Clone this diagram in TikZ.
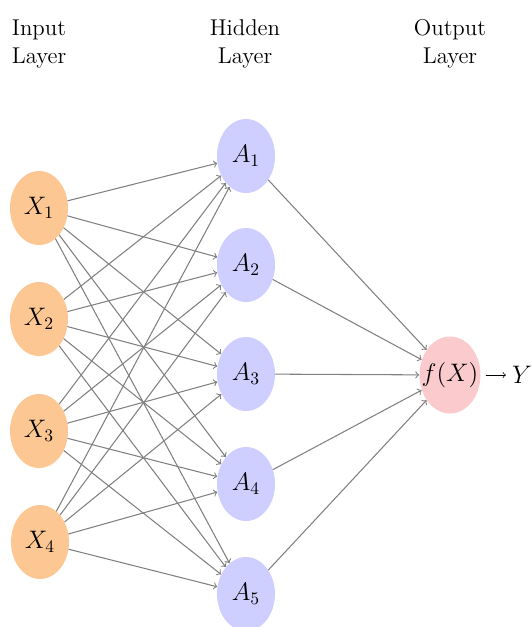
\documentclass[tikz,border=0pt]{standalone}
\usepackage{amsfonts,amsmath,amssymb}
\usepackage{tikz}
\usetikzlibrary{shapes.geometric}
\definecolor{inputfill}{RGB}{253,199,148}
\definecolor{hiddenfill}{RGB}{206,206,255}
\definecolor{outputfill}{RGB}{250,202,204}
\tikzset{
  every picture/.style={line join=round, line cap=round},
  neuron/.style={ellipse, inner sep=0pt, minimum width=1.16cm, minimum height=1.48cm,
    font=\fontsize{14.5}{17}\selectfont},
  inputneuron/.style={neuron, fill=inputfill},
  hiddenneuron/.style={neuron, fill=hiddenfill},
  outputneuron/.style={neuron, fill=outputfill, minimum width=1.22cm, minimum height=1.54cm},
  layerlabel/.style={align=center},
  synapse/.style={->, draw=black!50, line width=0.6pt},
}

\begin{document}
\begin{tikzpicture}[x=0.02cm,y=-0.02cm,font=\fontsize{13}{16}\selectfont]
\useasboundingbox (0,0) rectangle (532,627);
% layer titles
\node[layerlabel] (inlabel) at (39,44) {Input\\Layer};
\node[layerlabel] (hidlabel) at (245,44) {Hidden\\Layer};
\node[layerlabel] (outlabel) at (450,44) {Output\\Layer};
% input layer
\node[inputneuron] (X1) at (39,208) {$X_1$};
\node[inputneuron] (X2) at (39,319) {$X_2$};
\node[inputneuron] (X3) at (39,431) {$X_3$};
\node[inputneuron] (X4) at (40,542) {$X_4$};
% hidden layer
\node[hiddenneuron] (A1) at (246,156) {$A_1$};
\node[hiddenneuron] (A2) at (246,265) {$A_2$};
\node[hiddenneuron] (A3) at (246,374) {$A_3$};
\node[hiddenneuron] (A4) at (246,484) {$A_4$};
\node[hiddenneuron] (A5) at (246,594) {$A_5$};
% output layer
\node[outputneuron] (fX) at (450,375) {\makebox[0pt]{$f(X)$}};
\node[font=\fontsize{14.5}{17}\selectfont] (Y) at (522,375) {$Y$};
% connections
\foreach \i in {1,...,4}
  \foreach \j in {1,...,5}
    \draw[synapse] (X\i) -- (A\j);
\foreach \j in {1,...,5}
  \draw[synapse] (A\j) -- (fX);
\draw[->, shorten <=3pt] (fX) -- (Y);
\end{tikzpicture}
\end{document}
